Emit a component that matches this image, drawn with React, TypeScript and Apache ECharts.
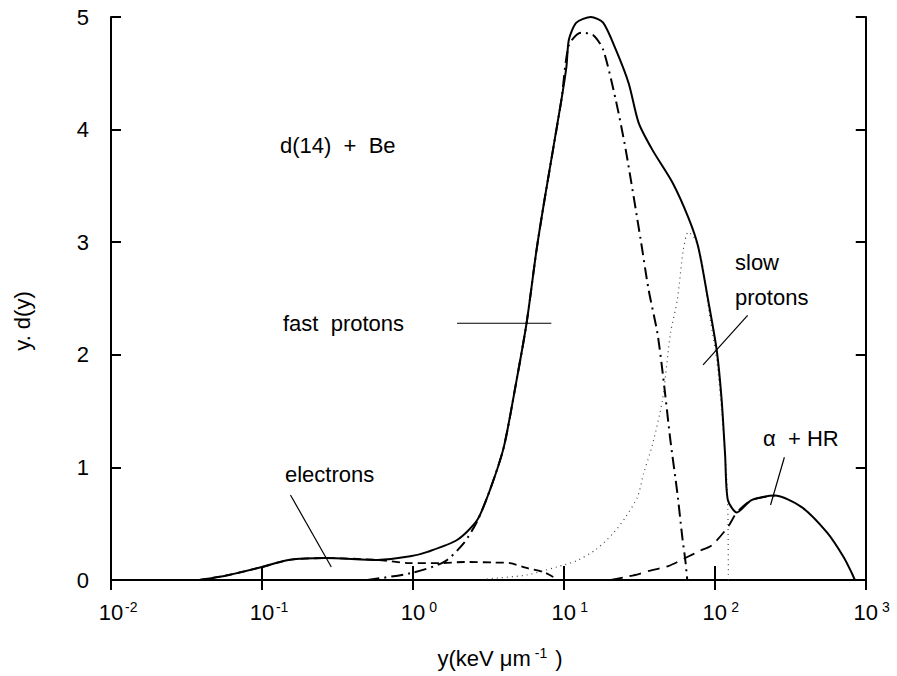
import React, { useEffect, useRef } from 'react';
import * as echarts from 'echarts';

const FONT = '"Liberation Sans", "DejaVu Sans", sans-serif';

// x values in keV/um, y values are y.d(y)
const totalCurve: number[][] = [
  [0.0385, 0], [0.0605, 0.045], [0.1, 0.115], [0.15, 0.178], [0.262, 0.195], [0.585, 0.178],
  [0.96, 0.21], [1.25, 0.25], [1.96, 0.355], [2.66, 0.53], [3.24, 0.8], [4.0, 1.18], [4.87, 1.78],
  [5.66, 2.28], [6.59, 2.93], [7.43, 3.37], [9.62, 4.26], [10.4, 4.56], [10.8, 4.8], [12.1, 4.95],
  [15.1, 5.0], [18.2, 4.95], [22.1, 4.71], [26.9, 4.41], [31.3, 4.06], [38.6, 3.82], [52.4, 3.53],
  [66.7, 3.22], [77.6, 2.96], [90.2, 2.49], [103, 2.04], [111, 1.6], [117, 1.11], [122, 0.71],
  [140, 0.6], [175, 0.71], [249, 0.75], [374, 0.65], [555, 0.42], [716, 0.2], [809, 0.06], [847, 0],
];

const electronsCurve: number[][] = [
  [0.0385, 0], [0.0605, 0.045], [0.1, 0.115], [0.15, 0.178], [0.262, 0.195], [0.585, 0.178],
  [0.96, 0.15], [1.5, 0.15], [2.2, 0.16], [3.5, 0.155], [4.4, 0.15], [5.66, 0.107], [7.33, 0.07],
  [8.5, 0.027], [8.9, 0],
];

const fastProtonsCurve: number[][] = [
  [0.5, 0], [0.96, 0.06], [1.61, 0.16], [2.18, 0.33], [2.66, 0.52], [3.24, 0.8], [4.0, 1.18],
  [4.87, 1.78], [5.66, 2.28], [6.59, 2.93], [7.43, 3.37], [9.62, 4.26], [10.8, 4.75], [13.0, 4.86],
  [15.6, 4.84], [18.2, 4.71], [22.1, 4.26], [25.7, 3.82], [32.3, 3.02], [36.4, 2.58], [41.7, 2.19],
  [45.7, 1.78], [50.8, 1.24], [56.5, 0.77], [60.9, 0.38], [63.7, 0.18], [65.7, 0],
];

const slowProtonsCurve: number[][] = [
  [3.09, 0.01], [5.66, 0.044], [8.91, 0.115], [12.1, 0.17], [16.3, 0.27], [21.4, 0.42], [25.7, 0.56],
  [30.8, 0.74], [33.8, 0.95], [38.6, 1.2], [45.0, 1.6], [50.8, 2.19], [56.5, 2.49], [61.8, 2.93],
  [66.7, 3.09], [74.5, 3.02], [82.9, 2.8], [90.2, 2.44], [103, 1.95], [111, 1.5], [119, 0.98],
  [122, 0.62], [123, 0],
];

const alphaHRCurve: number[][] = [
  [20.5, 0], [25.7, 0.027], [31.3, 0.053], [36.4, 0.08], [49.2, 0.124], [63.7, 0.195], [80.0, 0.26],
  [95.9, 0.31], [122, 0.47], [140, 0.6], [175, 0.71], [249, 0.75],
];

const leaderFast: number[][] = [[1.96, 2.28], [8.26, 2.28]];
const leaderSlow: number[][] = [[165, 2.35], [83.6, 1.91]];
const leaderElectrons: number[][] = [[0.1545, 0.755], [0.288, 0.115]];
const leaderAlpha: number[][] = [[289, 1.09], [234, 0.666]];

const yTicks = [0, 1, 2, 3, 4, 5];

const lineSeries = (data: number[][], type: any, width: number, color = '#000', z = 2) => ({
  type: 'line',
  data,
  showSymbol: false,
  symbol: 'none',
  smooth: 0.25,
  silent: true,
  z,
  lineStyle: { color, width, type },
});

const leader = (data: number[][]) => ({
  type: 'line',
  data,
  showSymbol: false,
  symbol: 'none',
  silent: true,
  z: 5,
  lineStyle: { color: '#000', width: 1.2, type: 'solid' },
});

const txt = (text: string, x: number, y: number, size = 22, extra: any = {}) => ({
  type: 'text',
  x,
  y,
  silent: true,
  style: {
    text,
    fill: '#000',
    fontSize: size,
    fontFamily: FONT,
    verticalAlign: 'middle',
    align: 'left',
    ...extra,
  },
});

export default function App() {
  const ref = useRef<HTMLDivElement>(null);
  useEffect(() => {
    const chart = echarts.init(ref.current!, null, { renderer: 'svg' });
    const axisLineStyle = { color: '#000', width: 2 };
    const option: any = {
      animation: false,
      backgroundColor: '#fff',
      grid: { left: 111, right: 25, top: 17, bottom: 96, show: false },
      xAxis: [
        {
          type: 'log',
          logBase: 10,
          min: 0.01,
          max: 1000,
          position: 'bottom',
          axisLine: { show: true, lineStyle: axisLineStyle },
          axisTick: { show: true, inside: true, length: 14, lineStyle: axisLineStyle },
          minorTick: { show: false },
          splitLine: { show: false },
          axisLabel: {
            margin: 20,
            formatter: (v: number) => {
              const e = Math.round(Math.log10(v));
              return `{b|10}{s|${e < 0 ? '-' + -e : e}}`;
            },
            rich: {
              b: { fontSize: 22, fontFamily: FONT, color: '#000', padding: [0, 0, 0, 16], lineHeight: 24 },
              s: { fontSize: 14, fontFamily: FONT, color: '#000', width: 16, align: 'left', verticalAlign: 'top', lineHeight: 14 },
            },
          },
        },
        {
          type: 'log',
          logBase: 10,
          min: 0.01,
          max: 1000,
          position: 'top',
          axisLine: { show: true, lineStyle: axisLineStyle },
          axisTick: { show: true, inside: true, length: 10, lineStyle: axisLineStyle },
          axisLabel: { show: false },
          splitLine: { show: false },
        },
      ],
      yAxis: [
        {
          type: 'value',
          min: yTicks[0],
          max: yTicks[yTicks.length - 1],
          interval: 1,
          axisLine: { show: true, lineStyle: axisLineStyle },
          axisTick: { show: true, inside: true, length: 10, lineStyle: axisLineStyle },
          splitLine: { show: false },
          axisLabel: { margin: 22, fontSize: 22, color: '#000', fontFamily: FONT },
        },
        {
          type: 'value',
          min: yTicks[0],
          max: yTicks[yTicks.length - 1],
          interval: 1,
          position: 'right',
          axisLine: { show: true, lineStyle: axisLineStyle },
          axisTick: { show: true, inside: true, length: 10, lineStyle: axisLineStyle },
          splitLine: { show: false },
          axisLabel: { show: false },
        },
      ],
      series: [
        lineSeries(slowProtonsCurve, [1, 4], 1.2, '#444', 1),
        lineSeries(alphaHRCurve, [12, 7], 1.8, '#000', 2),
        lineSeries(electronsCurve, [8, 5], 1.8, '#000', 2),
        lineSeries(fastProtonsCurve, [12, 5, 2, 5], 2, '#000', 3),
        lineSeries(totalCurve, 'solid', 2, '#000', 4),
        leader(leaderFast),
        leader(leaderSlow),
        leader(leaderElectrons),
        leader(leaderAlpha),
      ],
      graphic: [
        txt('d(14)  +  Be', 280, 145),
        txt('fast  protons', 283, 323),
        txt('slow', 735, 262),
        txt('protons', 735, 297),
        txt('electrons', 285, 474),
        txt('α  + HR', 763, 438),
        {
          type: 'text',
          x: 22,
          y: 321,
          rotation: Math.PI / 2,
          silent: true,
          style: {
            text: 'y. d(y)',
            fill: '#000',
            fontSize: 22,
            fontFamily: FONT,
            align: 'center',
            verticalAlign: 'middle',
          },
        },
        {
          type: 'text',
          x: 500,
          y: 658,
          silent: true,
          style: {
            text: '{a|y(keV μm}{s|-1}{a| )}',
            align: 'center',
            verticalAlign: 'middle',
            rich: {
              a: { fontSize: 22, fontFamily: FONT, fill: '#000', lineHeight: 24 },
              s: { fontSize: 14, fontFamily: FONT, fill: '#000', verticalAlign: 'top', lineHeight: 14, padding: [0, 2, 0, 4] },
            },
          },
        },
      ],
    };
    chart.setOption(option);
    return () => chart.dispose();
  }, []);
  return (
    <div
      ref={ref}
      style={{ position: 'absolute', left: 0, top: 0, width: 897, height: 676, background: '#fff' }}
    />
  );
}
